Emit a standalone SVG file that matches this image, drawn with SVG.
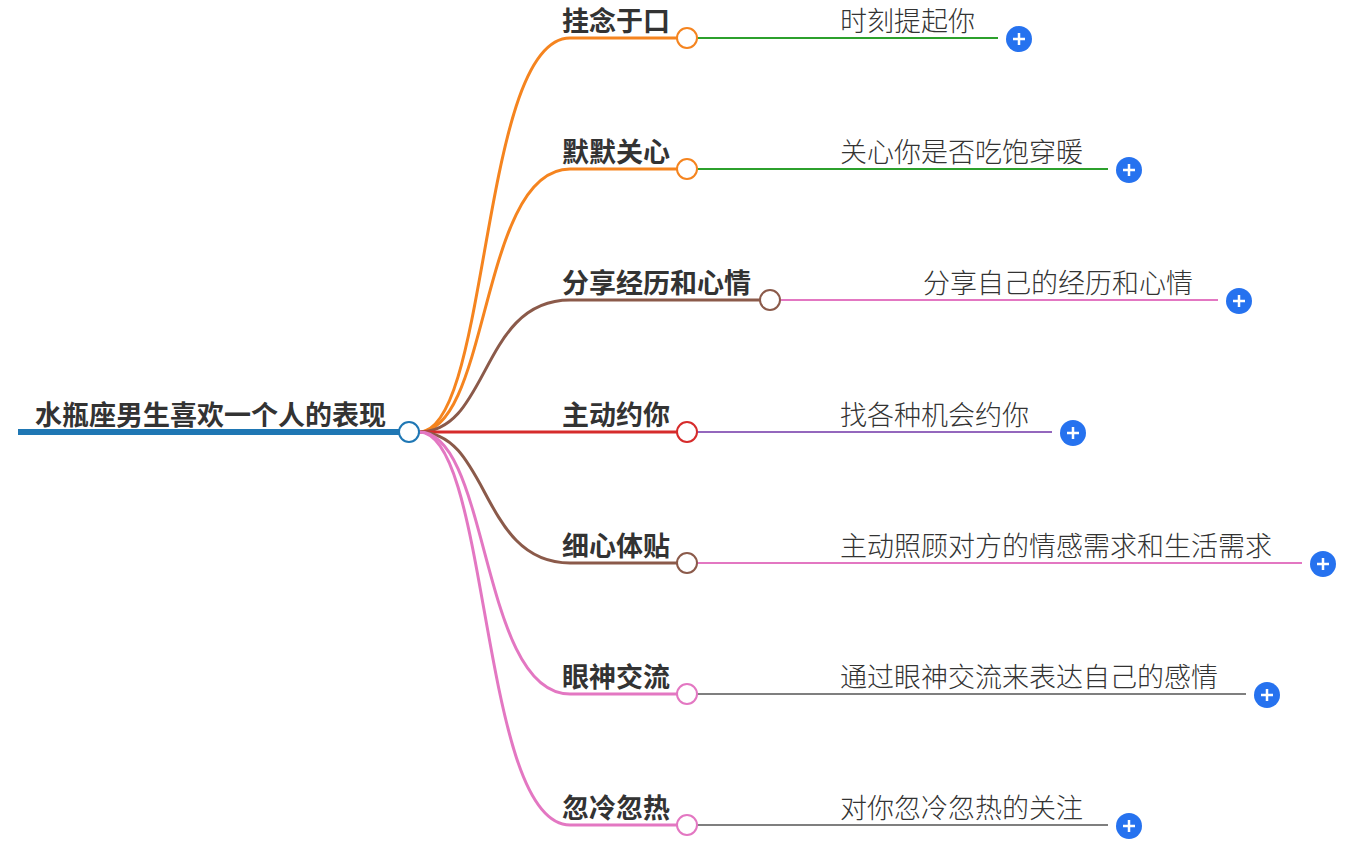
<svg xmlns="http://www.w3.org/2000/svg" width="1355" height="847" viewBox="0 0 1355 847">
<style>
.b{font-family:"Noto Sans CJK SC",sans-serif;font-size:27px;font-weight:bold;fill:#333}
.l{font-family:"Noto Sans CJK SC",sans-serif;font-size:27px;font-weight:300;fill:#333}
.c{fill:#fff;stroke-width:2}
.e{fill:none;stroke-width:3}
.f{fill:none;stroke-width:2}
</style>
<rect width="1355" height="847" fill="#fff"/>
<g id="connectors">
<path class="e" stroke="#1f77b4" d="M18 432H399" style="stroke-width:6"/>
<path class="e" stroke="#f5841f" d="M419 432C490 432 480 38 570 38H677"/>
<path class="e" stroke="#f5841f" d="M419 432C490 432 480 169 570 169H677"/>
<path class="e" stroke="#8b5a4a" d="M419 432C490 432 480 300 570 300H760"/>
<path class="e" stroke="#d62b2b" d="M419 432H677"/>
<path class="e" stroke="#8b5a4a" d="M419 432C490 432 480 563 570 563H677"/>
<path class="e" stroke="#e377c2" d="M419 432C490 432 480 694 570 694H677"/>
<path class="e" stroke="#e377c2" d="M419 432C490 432 480 825 570 825H677"/>
<path class="f" stroke="#2ca02c" d="M697 38H998"/>
<path class="f" stroke="#2ca02c" d="M697 169H1108"/>
<path class="f" stroke="#e377c2" d="M780 300H1218"/>
<path class="f" stroke="#9467bd" d="M697 432H1052"/>
<path class="f" stroke="#e377c2" d="M697 563H1302"/>
<path class="f" stroke="#7f7f7f" d="M697 694H1246"/>
<path class="f" stroke="#7f7f7f" d="M697 825H1108"/>
</g>
<g id="root"><text class="b" x="35" y="425">水瓶座男生喜欢一个人的表现</text><circle class="c" cx="409" cy="432" r="10" stroke="#1f77b4"/></g>
<g id="n1"><text class="b" x="562" y="31">挂念于口</text><circle class="c" cx="687" cy="38" r="10" stroke="#f5841f"/></g>
<g id="n2"><text class="b" x="562" y="162">默默关心</text><circle class="c" cx="687" cy="169" r="10" stroke="#f5841f"/></g>
<g id="n3"><text class="b" x="562" y="293">分享经历和心情</text><circle class="c" cx="770" cy="300" r="10" stroke="#8b5a4a"/></g>
<g id="n4"><text class="b" x="562" y="425">主动约你</text><circle class="c" cx="687" cy="432" r="10" stroke="#d62b2b"/></g>
<g id="n5"><text class="b" x="562" y="556">细心体贴</text><circle class="c" cx="687" cy="563" r="10" stroke="#8b5a4a"/></g>
<g id="n6"><text class="b" x="562" y="687">眼神交流</text><circle class="c" cx="687" cy="694" r="10" stroke="#e377c2"/></g>
<g id="n7"><text class="b" x="562" y="818">忽冷忽热</text><circle class="c" cx="687" cy="825" r="10" stroke="#e377c2"/></g>
<g id="l1"><text class="l" x="840" y="31">时刻提起你</text></g>
<g id="l2"><text class="l" x="840" y="162">关心你是否吃饱穿暖</text></g>
<g id="l3"><text class="l" x="923" y="293">分享自己的经历和心情</text></g>
<g id="l4"><text class="l" x="840" y="425">找各种机会约你</text></g>
<g id="l5"><text class="l" x="840" y="556">主动照顾对方的情感需求和生活需求</text></g>
<g id="l6"><text class="l" x="840" y="687">通过眼神交流来表达自己的感情</text></g>
<g id="l7"><text class="l" x="840" y="818">对你忽冷忽热的关注</text></g>
<g id="plus" stroke="#fff" stroke-width="2.5">
<g fill="#2672ef">
<circle cx="1019" cy="39" r="13" stroke="none"/><circle cx="1129" cy="170" r="13" stroke="none"/><circle cx="1239" cy="301" r="13" stroke="none"/><circle cx="1073" cy="433" r="13" stroke="none"/><circle cx="1323" cy="564" r="13" stroke="none"/><circle cx="1267" cy="695" r="13" stroke="none"/><circle cx="1129" cy="826" r="13" stroke="none"/>
</g>
<path d="M1013 39h12M1019 33v12M1123 170h12M1129 164v12M1233 301h12M1239 295v12M1067 433h12M1073 427v12M1317 564h12M1323 558v12M1261 695h12M1267 689v12M1123 826h12M1129 820v12"/>
</g>
</svg>
